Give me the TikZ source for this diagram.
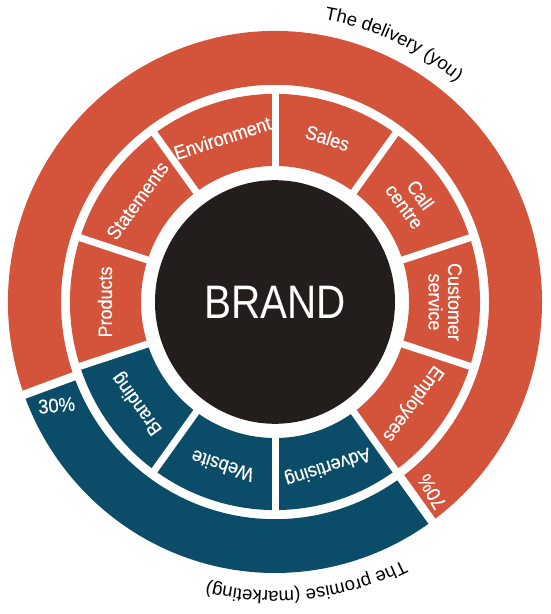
\documentclass[tikz,border=0pt]{standalone}
\usepackage{fontspec}
\setmainfont{Liberation Sans}
\newfontfamily\narrowfont[FakeStretch=0.92,FakeBold=0.4]{Liberation Sans}
\newfontfamily\brandfont[FakeStretch=0.86]{Liberation Sans}
\usetikzlibrary{decorations.text}
\definecolor{brandred}{HTML}{D4533B}
\definecolor{brandblue}{HTML}{0B4C68}
\definecolor{brandblack}{HTML}{231E1B}
\tikzset{
  seglabel/.style={text=white, align=center, font=\narrowfont\fontsize{19.5}{19.5}\selectfont, inner sep=0pt},
  pctlabel/.style={text=white, font=\narrowfont\fontsize{20}{20}\selectfont, inner sep=0pt},
  gapline/.style={white, line width=7pt},
  ringgap/.style={white, line width=8.5pt}
}
\newcommand{\annulus}[5]{% color, start, end, r1, r2
  \fill[#1] (#2:#4) arc[start angle=#2, end angle=#3, radius=#4] -- (#3:#5) arc[start angle=#3, end angle=#2, radius=#5] -- cycle;}
\begin{document}
\begin{tikzpicture}[x=1pt,y=1pt]
\useasboundingbox (0,0) rectangle (550,614);
\begin{scope}[shift={(275,312)}, yscale=1.015]
  % outer ring
  \annulus{brandred}{-54}{200}{214}{267}
  \annulus{brandblue}{-160}{-54}{214}{267}
  % segment ring
  \annulus{brandred}{-54}{198}{134}{205}
  \annulus{brandblue}{-162}{-54}{134}{205}
  % gaps between segments
  \foreach \a in {-162,-126,-90,-54,-18,18,54,90,126,162}
    \draw[gapline] (\a:128) -- (\a:210);
  % gaps in outer ring
  \draw[ringgap] (-160:209) -- (-160:273);
  \draw[ringgap] (-54:209) -- (-54:273);
  % centre
  \fill[brandblack] (0,0) circle[radius=120];
  \node[text=white, font=\brandfont\fontsize{47}{47}\selectfont, inner sep=0pt] (brand) at (0,0) {BRAND};
  % segment labels
  \node[seglabel, rotate=90]   (products)   at (180:170) {Products};
  \node[seglabel, rotate=54]   (statements) at (144:170) {Statements};
  \node[seglabel, rotate=18]   (environment) at (108:170) {Environment};
  \node[seglabel, rotate=-18]  (sales)      at (72:170) {Sales};
  \node[seglabel, rotate=-54]  (callcentre) at (36:170) {Call\\centre};
  \node[seglabel, rotate=-90]  (customer)   at (0:170) {Customer\\service};
  \node[seglabel, rotate=-126] (employees)  at (-36:170) {Employees};
  \node[seglabel, rotate=-162] (advertising) at (-72:170) {Advertising};
  \node[seglabel, rotate=162]  (website)    at (-108:170) {Website};
  \node[seglabel, rotate=126]  (branding)   at (-144:170) {Branding};
  % percentages
  \node[pctlabel, rotate=5]   (p30) at (-155:241) {30\%};
  \node[pctlabel, rotate=120] (p70) at (-50:244) {70\%};
\end{scope}
% curved captions
\path[postaction={decorate}, decoration={text along path, text align=center,
  text={|\fontsize{18.5}{18.5}\selectfont|The delivery (you)}}]
  (275,312) ++(82:283 and 287) arc[start angle=82, end angle=48, x radius=283, y radius=287];
\path[postaction={decorate}, decoration={text along path, text align=center,
  text={|\fontsize{18.5}{18.5}\selectfont|The promise (marketing)}}]
  (275,312) ++(-55:285 and 289) arc[start angle=-55, end angle=-112, x radius=285, y radius=289];
\end{tikzpicture}
\end{document}
